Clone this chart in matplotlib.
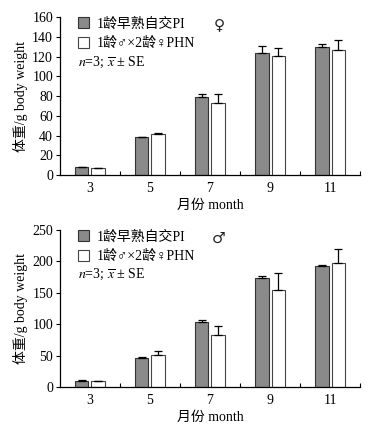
import matplotlib
matplotlib.use('Agg')
from matplotlib import pyplot as plt
from matplotlib.patches import Patch
import numpy as np

plt.rcParams['font.family'] = ['Liberation Serif', 'Noto Sans CJK SC', 'DejaVu Sans']
plt.rcParams['mathtext.fontset'] = 'stix'

# months on the x axis
months = ['3', '5', '7', '9', '11']

# female (top panel)
female_pi = [8, 38.5, 79, 124, 130]
female_pi_se = [0.5, 0.5, 3, 7, 3]
female_phn = [7, 41.5, 73.5, 121, 126.5]
female_phn_se = [0.5, 1, 9, 8, 10.5]

# male (bottom panel)
male_pi = [10, 46, 103, 174, 193]
male_pi_se = [0.5, 2, 4, 3, 1]
male_phn = [9, 51, 83, 155, 197]
male_phn_se = [0.5, 6, 14, 26, 23]

series_names = ['1龄早熟自交PI', '1龄♂×2龄♀PHN']


def draw_panel(ax, pi, pi_se, phn, phn_se, ymax, ystep, sex):
    x = np.arange(len(months))
    w = 0.23
    off = 0.14
    err_kw = dict(ecolor='black', elinewidth=0.9, capsize=2.6, capthick=0.9)
    ax.bar(x - off, pi, w, color='#8a8a8a', edgecolor='#333333', linewidth=0.8,
           yerr=[np.zeros(len(pi)), pi_se], error_kw=err_kw)
    ax.bar(x + off, phn, w, color='white', edgecolor='#444444', linewidth=0.8,
           yerr=[np.zeros(len(phn)), phn_se], error_kw=err_kw)

    ax.set_xlim(-0.5, len(months) - 0.5)
    ax.set_ylim(0, ymax)
    ax.set_yticks(np.arange(0, ymax + 1, ystep))
    ax.set_xticks(x)
    ax.set_xticklabels(months)
    ax.set_xticks(np.arange(0.5, len(months), 1.0), minor=True)
    ax.tick_params(axis='x', which='major', length=0, labelsize=10, pad=5)
    ax.tick_params(axis='x', which='minor', direction='in', length=3, width=0.8)
    ax.tick_params(axis='y', direction='out', length=3, width=0.8, labelsize=10, pad=2)
    for s in ['top', 'right']:
        ax.spines[s].set_visible(False)
    for s in ['left', 'bottom']:
        ax.spines[s].set_linewidth(0.9)

    ax.set_ylabel('体重/g body weight', fontsize=10, labelpad=3)
    ax.set_xlabel('月份 month', fontsize=10, labelpad=3)

    handles = [Patch(facecolor='#8a8a8a', edgecolor='#333333', linewidth=0.8),
               Patch(facecolor='white', edgecolor='#444444', linewidth=0.8)]
    ax.legend(handles, series_names, loc='upper left', bbox_to_anchor=(0.04, 1.035),
              frameon=False, fontsize=10, handlelength=0.85, handleheight=0.85,
              handletextpad=0.5, labelspacing=0.45, borderaxespad=0)
    ax.text(0.06, 0.715, r'$n$=3; $\overline{x}$ ± SE', transform=ax.transAxes,
            fontsize=10, va='center', ha='left')
    ax.text(0.53, 0.95, sex, transform=ax.transAxes, fontsize=11,
            va='center', ha='center', family=['DejaVu Sans'], color='#222222')


fig = plt.figure(figsize=(3.77, 4.30), dpi=100)
ax1 = fig.add_axes([0.159, 0.593, 0.796, 0.367])
ax2 = fig.add_axes([0.159, 0.100, 0.796, 0.365])

draw_panel(ax1, female_pi, female_pi_se, female_phn, female_phn_se, 160, 20, '♀')
draw_panel(ax2, male_pi, male_pi_se, male_phn, male_phn_se, 250, 50, '♂')

fig.savefig('out.png', dpi=100)
